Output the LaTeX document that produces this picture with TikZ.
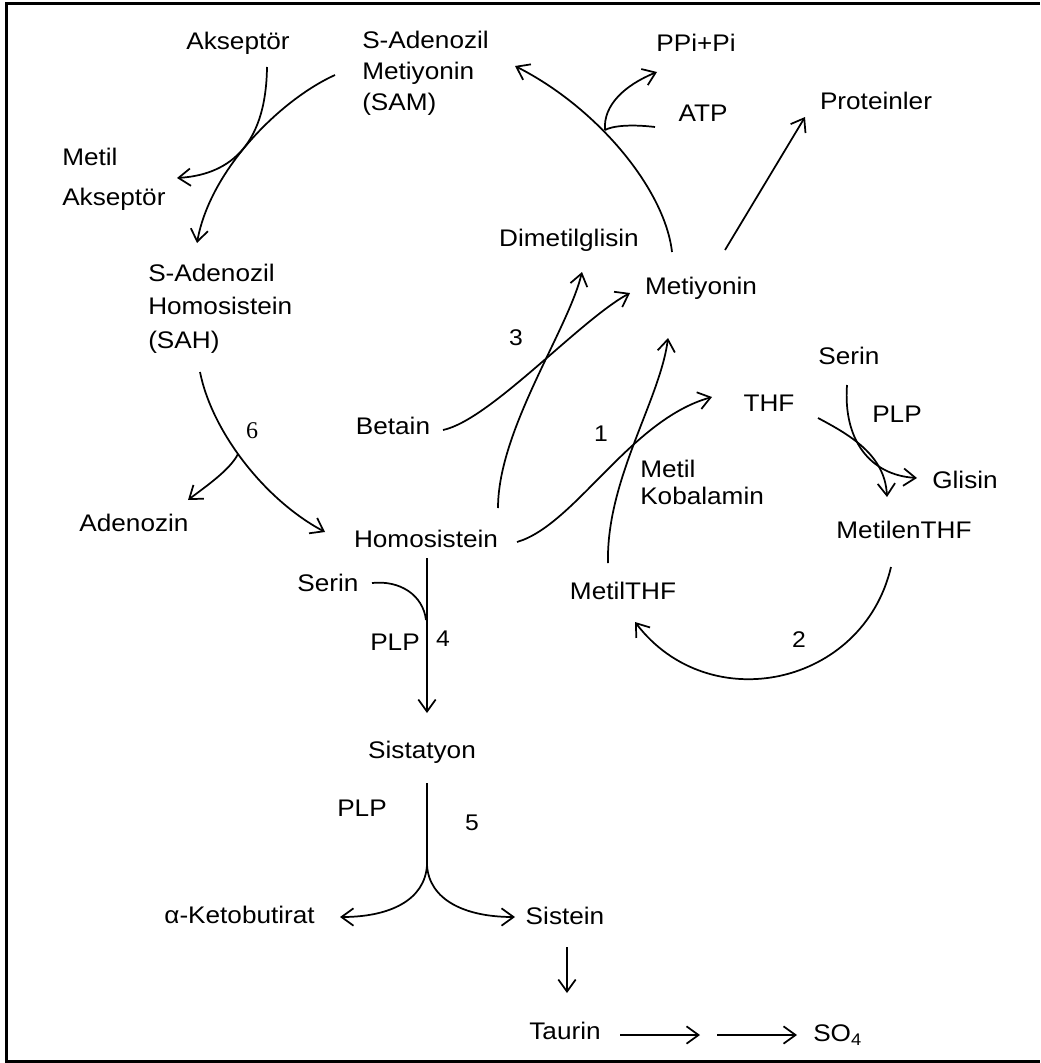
\documentclass[tikz,border=0pt]{standalone}
\usepackage{fontspec}
\setmainfont{Liberation Sans}[FakeStretch=1.09]
\newfontfamily\serifnum{Liberation Serif}
\usetikzlibrary{arrows.meta}
\begin{document}
\begin{tikzpicture}[x=0.75pt,y=-0.75pt,
  lbl/.style={font=\fontsize{18}{22}\selectfont, inner sep=0pt, text height=12.9pt, text depth=0pt},
  mlbl/.style={font=\fontsize{18}{#1}\selectfont, inner sep=0pt, align=left, anchor=north west},
  num/.style={font=\fontsize{17}{20}\selectfont, inner sep=0pt, text height=12.2pt, text depth=0pt},
  conn/.style={line width=1.3pt, -{Straight Barb[length=9pt,width=13pt]}},
  plainline/.style={line width=1.3pt},
  frame/.style={line width=2.3pt}
]
\useasboundingbox (0,0) rectangle (1040,1063);
% frame
\draw[frame] (6.5,1063) -- (6.5,3.5) -- (1040,3.5);
\draw[frame] (6.5,1061.5) -- (1040,1061.5);

% text nodes
\node[lbl] (akc) at (238,41) {Akseptör};
\node[mlbl=23.25pt] (sam) at (362,31) {S-Adenozil\\Metiyonin\\(SAM)};
\node[mlbl=30pt] (metak) at (62,148) {Metil\\Akseptör};
\node[mlbl=25pt] (sah) at (148,264) {S-Adenozil\\Homosistein\\(SAH)};
\node[lbl] (ppi) at (696,43) {PPi+Pi};
\node[lbl] (atp) at (703,113) {ATP};
\node[lbl] (prot) at (876,101) {Proteinler};
\node[lbl] (dmg) at (569,238) {Dimetilglisin};
\node[lbl] (met) at (701,286) {Metiyonin};
\node[lbl] (bet) at (393,426) {Betain};
\node[lbl] (thf) at (769,403) {THF};
\node[lbl] (ser2) at (849,356) {Serin};
\node[lbl] (plp2) at (897,414) {PLP};
\node[lbl] (gli) at (965,480) {Glisin};
\node[lbl] (mthf) at (904,530) {MetilenTHF};
\node[lbl] (methf) at (623,591) {MetilTHF};
\node[mlbl=20pt] (kob) at (640,460) {Metil\\Kobalamin};
\node[lbl] (ade) at (134,523) {Adenozin};
\node[lbl] (hcy) at (426,539) {Homosistein};
\node[lbl] (ser1) at (328,583) {Serin};
\node[lbl] (plp1) at (395,642) {PLP};
\node[lbl] (cth) at (422,750) {Sistatyon};
\node[lbl] (plp3) at (362,808) {PLP};
\node[lbl,anchor=east] (akb) at (315,915) {α-Ketobutirat};
\node[lbl] (cys) at (565,916) {Sistein};
\node[lbl] (tau) at (565,1031) {Taurin};
\node[lbl,anchor=west] (so4) at (813,1033) {SO\textsubscript{4}};

% reaction numbers
\node[num] (n3) at (516,337) {3};
\node[num] (n1) at (601,433) {1};
\node[num] (n2) at (799,639) {2};
\node[num,font=\fontsize{18}{20}\serifnum] (n6) at (252,430) {6};
\node[num] (n4) at (443,638) {4};
\node[num] (n5) at (472,822) {5};

% connector end points
\coordinate (akcOut) at (267,67);
\coordinate (metakIn) at (177,178);
\coordinate (samOut) at (335,75);
\coordinate (sahIn) at (197,243);
\coordinate (sahOut) at (200,372);
\coordinate (hcyIn) at (325,532);
\coordinate (j6) at (238,454);
\coordinate (adeIn) at (188,500);
\coordinate (metOutL) at (672,252);
\coordinate (samIn) at (515,66);
\coordinate (atpOut) at (655,127);
\coordinate (jatp) at (605,130);
\coordinate (ppiIn) at (657,72);
\coordinate (metOutR) at (725,250);
\coordinate (protIn) at (805,117);
\coordinate (betOut) at (443,430);
\coordinate (metIn1) at (630,293);
\coordinate (hcyOut1) at (498,508);
\coordinate (dmgIn) at (582,272);
\coordinate (hcyOut2) at (517,542);
\coordinate (thfIn) at (712,397);
\coordinate (methfOut) at (608,563);
\coordinate (metIn2) at (668,338);
\coordinate (thfOut) at (818,418);
\coordinate (mthfIn) at (887,497);
\coordinate (serOut2) at (847,385);
\coordinate (gliIn) at (917,478);
\coordinate (mthfOut) at (891,567);
\coordinate (methfIn) at (635,622);
\coordinate (hcyOut3) at (427,558);
\coordinate (cthIn) at (427,713);
\coordinate (serOut1) at (372,583);
\coordinate (j4) at (426,620);
\coordinate (cthOut) at (427,783);
\coordinate (j5) at (427,865);
\coordinate (akbIn) at (340,917);
\coordinate (cysIn) at (515,917);
\coordinate (cysOut) at (567,947);
\coordinate (tauIn) at (567,993);
\coordinate (tauOut) at (620,1035);
\coordinate (midA) at (700,1035);
\coordinate (midB) at (717,1035);
\coordinate (so4In) at (797,1035);

% SAM cycle
\draw[conn] (akcOut) .. controls (266,150) and (225,175) .. (metakIn);
\draw[conn] (samOut) .. controls (280,100) and (210,170) .. (sahIn);
\draw[conn] (sahOut) .. controls (212,432) and (265,500) .. (hcyIn);
\draw[conn] (j6) .. controls (230,470) and (205,487) .. (adeIn);
\draw[conn] (metOutL) .. controls (665,190) and (598,108) .. (samIn);
\draw[plainline] (atpOut) .. controls (630,124) and (612,126) .. (jatp);
\draw[conn] (jatp) .. controls (603,105) and (625,85) .. (ppiIn);
\draw[conn] (metOutR) -- (protIn);

% remethylation
\draw[conn] (betOut) .. controls (490,420) and (580,320) .. (metIn1);
\draw[conn] (hcyOut1) .. controls (498,430) and (568,330) .. (dmgIn);
\draw[conn] (hcyOut2) .. controls (575,525) and (630,420) .. (thfIn);
\draw[conn] (methfOut) .. controls (606,480) and (660,400) .. (metIn2);

% folate cycle
\draw[conn] (thfOut) .. controls (850,435) and (885,455) .. (mthfIn);
\draw[conn] (serOut2) .. controls (843,440) and (870,475) .. (gliIn);
\draw[conn] (mthfOut) .. controls (863,686) and (709,719) .. (methfIn);

% transsulfuration
\draw[conn] (hcyOut3) -- (cthIn);
\draw[plainline] (serOut1) .. controls (400,580) and (423,595) .. (j4);
\draw[plainline] (cthOut) -- (j5);
\draw[conn] (j5) .. controls (425,900) and (390,917) .. (akbIn);
\draw[conn] (j5) .. controls (429,900) and (465,917) .. (cysIn);
\draw[conn] (cysOut) -- (tauIn);
\draw[conn] (tauOut) -- (midA);
\draw[conn] (midB) -- (so4In);
\end{tikzpicture}
\end{document}
